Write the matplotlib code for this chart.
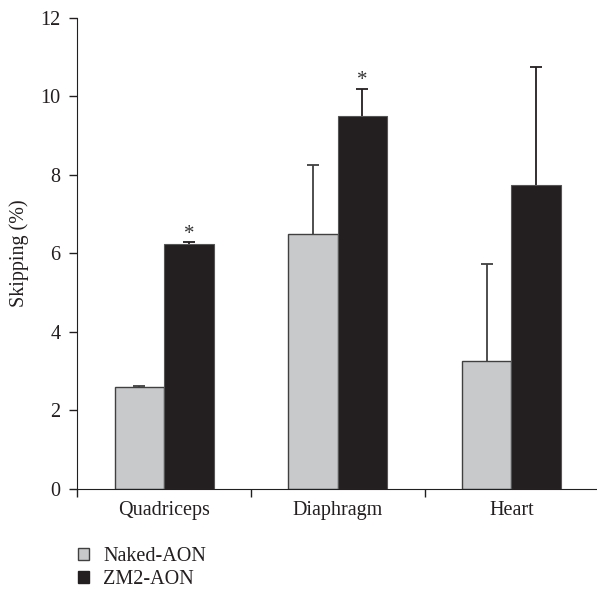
import matplotlib
matplotlib.use("Agg")
import matplotlib.pyplot as plt
import numpy as np
from matplotlib.patches import Patch

categories = ["Quadriceps", "Diaphragm", "Heart"]
naked = [2.6, 6.5, 3.25]
naked_err = [0.02, 1.75, 2.48]
zm2 = [6.25, 9.5, 7.75]
zm2_err = [0.04, 0.7, 3.0]
significant = [True, True, False]
series_names = ["Naked-AON", "ZM2-AON"]
yticks = [0, 2, 4, 6, 8, 10, 12]

plt.rcParams['font.family'] = ['Liberation Serif', 'DejaVu Serif']
FS = 14.5
TXT = "#231f20"

fig = plt.figure(figsize=(5.97, 5.92), dpi=100)
ax = fig.add_axes([0.1295, 0.1745, 0.8725, 0.7951])

x = np.arange(len(categories))
w = 0.285
grey = "#c8c9cb"
black = "#231f20"

ax.bar(x - w / 2, naked, w, color=grey, edgecolor="#404040", linewidth=1.0, zorder=2)
ax.bar(x + w / 2, zm2, w, color=black, edgecolor="#555555", linewidth=0.8, zorder=2)
for xs, vals, errs, col in [(x - w / 2, naked, naked_err, "#404040"),
                            (x + w / 2, zm2, zm2_err, black)]:
    cont = ax.errorbar(xs, vals, yerr=[np.zeros(3), errs], fmt="none",
                       ecolor=col, capsize=4, elinewidth=1.3, capthick=1.3, zorder=1)
    for cl in cont.lines[1]:
        if np.allclose(cl.get_ydata(), vals):
            cl.set_visible(False)

for i, s in enumerate(significant):
    if s:
        ax.text(x[i] + w / 2, zm2[i] + zm2_err[i] + 0.08, "*", ha="center", va="baseline",
                fontsize=15, color="#333333")

ax.set_xlim(-0.5, 2.5)
ax.set_ylim(0, 12)
ax.set_yticks(yticks)
ax.set_yticklabels([str(t) for t in yticks], fontsize=FS, color=TXT)
ax.set_xticks(x)
ax.set_xticklabels(categories, fontsize=FS, color=TXT)
ax.tick_params(axis='x', which='major', length=0, pad=9)
ax.set_xticks([-0.5, 0.5, 1.5, 2.5], minor=True)
ax.tick_params(axis='x', which='minor', length=6, width=1, direction='out', color=TXT)
ax.tick_params(axis='y', length=6, width=1, direction='out', color=TXT, pad=6)
ax.spines['top'].set_visible(False)
ax.spines['right'].set_visible(False)
ax.spines['left'].set_color(TXT)
ax.spines['bottom'].set_color(TXT)
ax.set_ylabel("Skipping (%)", fontsize=FS, color=TXT, labelpad=8)

handles = [Patch(facecolor=grey, edgecolor="#404040", linewidth=1.0),
           Patch(facecolor=black, edgecolor=black)]
fig.legend(handles, series_names, loc="upper left", bbox_to_anchor=(0.131, 0.076),
           frameon=False, fontsize=FS, handlelength=0.55, handleheight=0.55,
           handletextpad=0.7, labelspacing=0.22, borderaxespad=0, borderpad=0,
           labelcolor=TXT)

fig.savefig("out.png", dpi=100)
